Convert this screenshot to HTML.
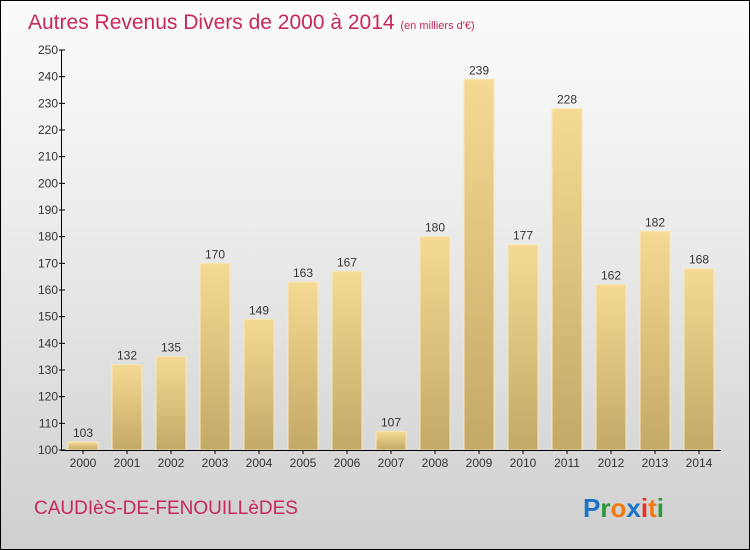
<!DOCTYPE html>
<html><head><meta charset="utf-8"><style>
body{margin:0;}
#wrap{position:relative;width:748px;height:548px;border:1px solid #000;background:linear-gradient(#fbfbfb,#ececec 40%,#cfcfcf);font-family:"Liberation Sans",sans-serif;overflow:hidden}
svg{position:absolute;left:0;top:0}
</style></head><body>
<div id="wrap">
<svg id="c" width="748" height="548">
<defs><linearGradient id="bg" x1="0" y1="0" x2="0" y2="1"><stop offset="0" stop-color="#f5da93"/><stop offset="1" stop-color="#c3a966"/></linearGradient></defs>
<text x="27" y="28" font-size="21" fill="#c8285a">Autres Revenus Divers de 2000 à 2014 <tspan font-size="11">(en milliers d'€)</tspan></text>
<text x="33" y="513" font-size="19" fill="#c8285a">CAUDIèS-DE-FENOUILLèDES</text>
<g font-size="26" font-weight="bold">
<text x="582" y="516"><tspan fill="#1a73c8">P</tspan><tspan fill="#2a9a3a">r</tspan><tspan fill="#f07a10">o</tspan><tspan fill="#1a73c8">x</tspan><tspan fill="#e83020">i</tspan><tspan fill="#f07a10">t</tspan><tspan fill="#2a9a3a">i</tspan></text></g>
<g id="plot"></g>
</svg></div>
<script>
const years=["2000","2001","2002","2003","2004","2005","2006","2007","2008","2009","2010","2011","2012","2013","2014"];
const values=[103,132,135,170,149,163,167,107,180,239,177,228,162,182,168];
const ticks=[100,110,120,130,140,150,160,170,180,190,200,210,220,230,240,250];
const NS="http://www.w3.org/2000/svg";
const g=document.getElementById('plot');
const x0=60,slot=44,yMin=100,yMax=250,yTop=49,yBot=449;
const y=v=>yBot-(v-yMin)/(yMax-yMin)*(yBot-yTop);
const xc=i=>x0+slot*i+slot/2;
function mk(t,a){const e=document.createElementNS(NS,t);for(const k in a)e.setAttribute(k,a[k]);g.appendChild(e);return e;}
values.forEach((v,i)=>{
 const r=mk('rect',{x:xc(i)-15,y:y(v),width:30,height:yBot-y(v),fill:'url(#bg)',stroke:'#f8e8b8','stroke-width':1});
 
 
 const t=mk('text',{x:xc(i),y:y(v)-5,'text-anchor':'middle','font-size':12,fill:'#333'});t.textContent=v;
 
 
 const l=mk('text',{x:xc(i),y:466,'text-anchor':'middle','font-size':12,fill:'#333'});l.textContent=years[i];
 
 
});
ticks.forEach(tv=>{
 mk('line',{x1:58,x2:64,y1:y(tv),y2:y(tv),stroke:'#000'});
 const t=mk('text',{x:57,y:y(tv)+4,'text-anchor':'end','font-size':12,fill:'#333'});t.textContent=tv;
 
 
});
const ya=mk('line',{x1:60.5,x2:60.5,y1:yTop,y2:yBot,stroke:'#000'});


const xa=mk('line',{x1:60,x2:720,y1:yBot+0.5,y2:yBot+0.5,stroke:'#000'});


years.forEach((yr,i)=>mk('line',{x1:xc(i),x2:xc(i),y1:yBot,y2:yBot+4,stroke:'#000'}));
</script>
</body></html>
